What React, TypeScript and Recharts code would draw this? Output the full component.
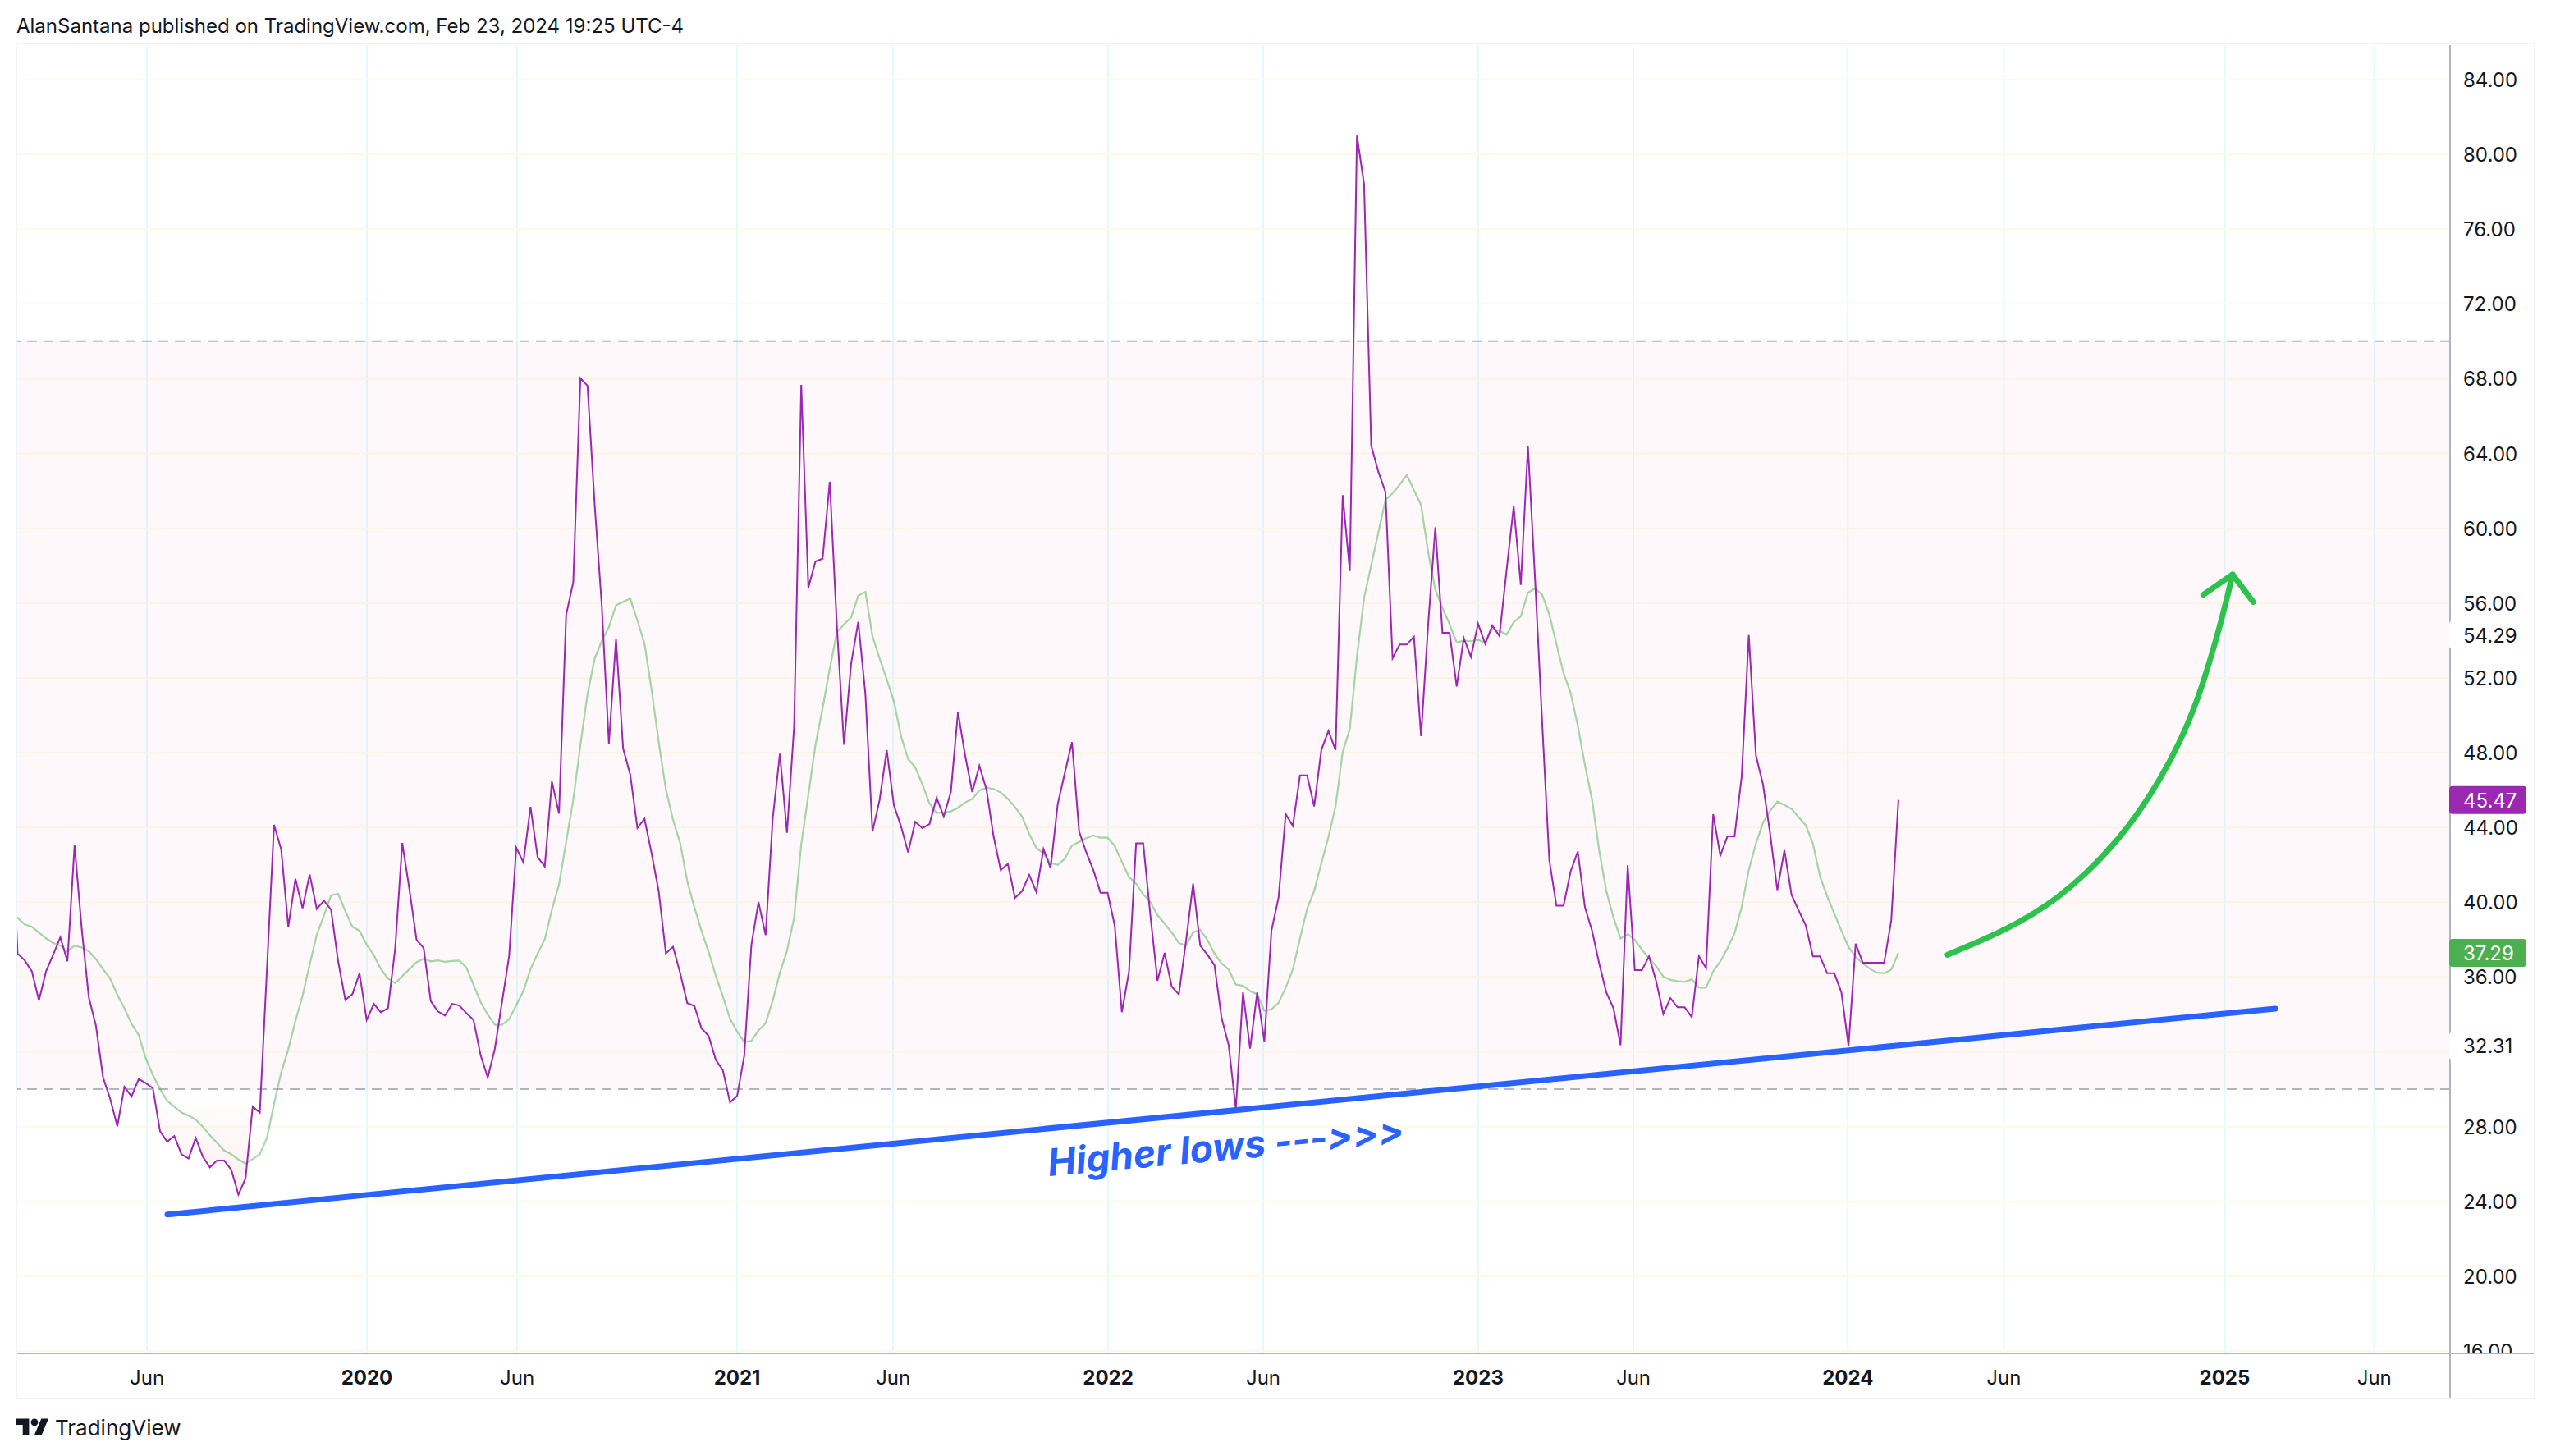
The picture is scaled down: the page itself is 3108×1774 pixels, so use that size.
import { ComposedChart, Area, Line, XAxis, YAxis, CartesianGrid, ReferenceArea, ReferenceLine } from 'recharts';

const FONT = 'Inter, sans-serif';
const INK = '#131722';
const PURPLE = '#9c27b0';
const GREEN = '#4caf50';
const BLUE = '#2962ff';
const ARROW = '#2dc24d';

// weekly RSI, first value sits just left of the pane
const rsi = [
  45.8, 37.26, 36.89, 36.31, 34.75, 36.31, 37.2, 38.13, 36.84, 43.05, 38.6, 34.91, 33.4, 30.63, 29.49, 28.02, 30.13, 29.61, 30.55, 30.33,
  30.05, 27.75, 27.19, 27.5, 26.52, 26.29, 27.4, 26.39, 25.82, 26.19, 26.19, 25.68, 24.36, 25.23, 29.07, 28.75, 36.4, 44.14, 42.83, 38.69,
  41.25, 39.68, 41.49, 39.64, 40.08, 39.61, 36.84, 34.78, 35.08, 36.2, 33.7, 34.56, 34.11, 34.33, 37.51, 43.17, 40.7, 38.0, 37.55, 34.71,
  34.16, 33.94, 34.56, 34.48, 34.07, 33.7, 31.81, 30.63, 32.18, 34.66, 37.13, 42.92, 42.13, 45.1, 42.41, 41.91, 46.46, 44.74, 55.36, 57.12,
  68.03, 67.62, 61.29, 55.88, 48.48, 54.08, 48.22, 46.82, 43.97, 44.46, 42.6, 40.57, 37.26, 37.62, 36.22, 34.6, 34.46, 33.25, 32.86, 31.57,
  31.01, 29.3, 29.64, 31.79, 37.71, 40.01, 38.24, 44.49, 47.94, 43.71, 49.4, 67.67, 56.83, 58.23, 58.37, 62.49, 54.8, 48.42, 52.76, 55.0,
  51.16, 43.79, 45.47, 48.14, 45.19, 44.07, 42.67, 44.3, 43.96, 44.18, 45.59, 44.58, 45.89, 50.18, 47.86, 45.89, 47.29, 46.03, 43.51, 41.72,
  42.05, 40.23, 40.6, 41.46, 40.54, 42.84, 41.83, 45.25, 46.93, 48.56, 43.79, 42.67, 41.72, 40.51, 40.51, 38.75, 34.12, 36.28, 43.15, 43.15,
  39.31, 35.8, 37.29, 35.49, 35.07, 37.9, 40.99, 37.68, 37.2, 36.64, 33.81, 32.35, 28.93, 35.18, 32.17, 35.18, 32.56, 38.48, 40.26, 44.71,
  44.08, 46.78, 46.78, 45.13, 48.14, 49.16, 48.14, 61.77, 57.71, 81.0, 78.41, 64.43, 63.03, 61.94, 53.05, 53.78, 53.78, 54.2, 48.88, 54.87,
  60.05, 54.41, 54.41, 51.54, 54.13, 53.12, 54.9, 53.82, 54.8, 54.24, 57.74, 61.17, 56.97, 64.4, 57.3, 49.6, 42.26, 39.81, 39.81, 41.66,
  42.71, 39.74, 38.48, 36.72, 35.18, 34.34, 32.35, 41.98, 36.37, 36.37, 37.11, 35.78, 34.03, 34.87, 34.38, 34.38, 33.85, 37.11, 36.48, 44.71,
  42.5, 43.52, 43.52, 46.71, 54.29, 47.86, 46.29, 43.66, 40.65, 42.78, 40.4, 39.56, 38.76, 37.11, 37.11, 36.2, 36.2, 35.18, 32.31, 37.78,
  36.76, 36.76, 36.76, 36.76, 39.04, 45.47,
];

// its moving average
const rsiMa = [
  39.5, 39.16, 38.81, 38.69, 38.37, 38.07, 37.82, 37.68, 37.38, 37.68, 37.58, 37.38, 36.96, 36.42, 35.92, 35.05, 34.33, 33.49, 32.9, 31.64,
  30.75, 30.01, 29.38, 29.07, 28.75, 28.59, 28.37, 28.0, 27.53, 27.13, 26.72, 26.52, 26.24, 26.02, 26.27, 26.52, 27.4, 29.21, 30.89, 32.14,
  33.65, 35.0, 36.67, 38.27, 39.28, 40.37, 40.45, 39.53, 38.69, 38.47, 37.73, 37.18, 36.42, 35.92, 35.67, 36.05, 36.42, 36.79, 36.98, 36.84,
  36.89, 36.81, 36.86, 36.88, 36.51, 35.58, 34.66, 33.99, 33.44, 33.44, 33.74, 34.49, 35.25, 36.42, 37.26, 38.02, 39.61, 40.95, 43.22, 45.48,
  48.4, 51.12, 53.02, 53.97, 54.71, 55.88, 56.07, 56.24, 55.07, 53.83, 51.34, 48.56, 46.03, 44.41, 43.17, 41.13, 39.73, 38.47, 37.34, 36.08,
  34.96, 33.78, 33.08, 32.52, 32.58, 33.14, 33.53, 34.74, 36.22, 37.4, 39.17, 43.09, 45.75, 48.42, 50.38, 52.48, 54.44, 54.86, 55.23, 56.4,
  56.6, 54.22, 53.04, 51.92, 50.74, 48.89, 47.66, 47.21, 46.31, 45.28, 44.77, 44.8, 44.86, 45.05, 45.33, 45.53, 45.98, 46.12, 46.06, 45.87,
  45.53, 45.08, 44.58, 43.65, 42.9, 42.61, 42.11, 42.0, 42.33, 43.03, 43.23, 43.43, 43.57, 43.45, 43.45, 43.01, 42.17, 41.35, 40.99, 40.43,
  40.01, 39.31, 38.86, 38.38, 37.82, 37.68, 38.38, 38.52, 37.99, 37.26, 36.73, 36.39, 35.6, 35.53, 35.25, 35.08, 34.2, 34.27, 34.62, 35.43,
  36.41, 38.06, 39.63, 40.61, 42.08, 43.49, 45.13, 48.04, 49.26, 53.12, 56.27, 58.02, 59.77, 61.52, 61.87, 62.33, 62.85, 62.05, 61.24, 58.72,
  56.72, 55.74, 54.87, 53.89, 53.99, 53.96, 54.03, 53.89, 54.62, 54.52, 54.31, 54.97, 55.29, 56.55, 56.8, 56.45, 55.39, 53.82, 52.24, 51.19,
  49.44, 47.34, 45.48, 42.78, 40.61, 39.18, 38.06, 38.3, 37.99, 37.46, 37.0, 36.58, 36.02, 35.85, 35.78, 35.74, 35.88, 35.43, 35.43, 36.3,
  36.83, 37.53, 38.34, 39.74, 41.73, 43.13, 44.26, 44.89, 45.38, 45.2, 44.99, 44.54, 44.12, 43.13, 41.38, 40.33, 39.39, 38.48, 37.6, 37.08,
  36.72, 36.44, 36.23, 36.2, 36.39, 37.29,
];

const FIRST_WEEK = -1;
const weeks = rsi.map((_, i) => i + FIRST_WEEK);

// axis ticks, placed where the picture has them on the week scale
const xTicks = [18.16, 49.03, 70.12, 101, 122.9, 153.07, 174.84, 205.02, 226.8, 256.9, 278.8, 309.8, 330.8];
const xLabels = ['Jun', '2020', 'Jun', '2021', 'Jun', '2022', 'Jun', '2023', 'Jun', '2024', 'Jun', '2025', 'Jun'];
const boldLabels = ['2020', '2021', '2022', '2023', '2024', '2025'];
const yGrid = [16, 20, 24, 28, 32, 36, 40, 44, 48, 52, 56, 60, 64, 68, 72, 76, 80, 84];
const hiddenYLabels = [32]; // sits under the 32.31 tag

// drawings on the chart
const trendWeeks = [21.04, 316.9];
const trendValues = [23.3, 34.31];
const arrowWeeks = [270.9, 274.3, 279.0, 286.35, 294.4, 300.7, 305.7, 309.4, 310.9];
const arrowValues = [37.19, 37.74, 38.56, 40.28, 43.2, 46.6, 50.6, 55.2, 57.53];
const headWeeks = [306.8, 310.9, 313.8];
const headValues = [56.45, 57.53, 56.06];

const tableData = weeks.map((week, i) => ({
  week,
  rsi: rsi[i],
  ma: rsiMa[i],
  over: [70, Math.max(rsi[i], 70)],
  under: [Math.min(rsi[i], 30), 30],
}));
const arrowData = arrowWeeks.map((week, i) => ({ week, arrow: arrowValues[i] }));
const headData = headWeeks.map((week, i) => ({ week, head: headValues[i] }));

const priceTags = [
  { value: 54.29, bg: '#ffffff', color: INK },
  { value: 32.31, bg: '#ffffff', color: INK },
  { value: 45.47, bg: PURPLE, color: '#ffffff' },
  { value: 37.29, bg: GREEN, color: '#ffffff' },
];
const yTicks = [...yGrid.filter((v) => !hiddenYLabels.includes(v)), ...priceTags.map((t) => t.value)];

const TimeTick = ({ x, index }: any) => {
  const label = xLabels[index];
  return (
    <text
      x={x}
      y={1687}
      textAnchor="middle"
      fontFamily={FONT}
      fontSize={24}
      fontWeight={boldLabels.includes(label) ? 700 : 400}
      fill={INK}
    >
      {label}
    </text>
  );
};

const PriceTick = ({ y, payload }: any) => {
  const tag = priceTags.find((t) => t.value === payload.value);
  return (
    <g>
      {tag && <rect x={2984} y={y - 17} width={94} height={34} rx={4} fill={tag.bg} />}
      <text x={3001} y={y + 9} fontFamily={FONT} fontSize={24} fill={tag ? tag.color : INK}>
        {payload.value.toFixed(2)}
      </text>
    </g>
  );
};

export default function App() {
  return (
    <div style={{ position: 'absolute', left: 0, top: 0, width: 3108, height: 1774, background: '#fff', overflow: 'hidden' }}>
      <div style={{ position: 'absolute', left: 20, top: 16, fontFamily: FONT, fontSize: 24, lineHeight: '32px', color: INK, whiteSpace: 'nowrap' }}>
        AlanSantana published on TradingView.com, Feb 23, 2024 19:25 UTC-4
      </div>

      <ComposedChart
        width={3108}
        height={1774}
        data={tableData}
        margin={{ top: 55, right: 0, bottom: 70, left: 21 }}
        style={{ position: 'absolute', left: 0, top: 0 }}
      >
        <defs>
          <linearGradient id="underFill" x1="0" y1="0" x2="0" y2="1">
            <stop offset="0%" stopColor="#f23645" stopOpacity={0} />
            <stop offset="100%" stopColor="#f23645" stopOpacity={0.14} />
          </linearGradient>
          <linearGradient id="overFill" x1="0" y1="0" x2="0" y2="1">
            <stop offset="0%" stopColor="#4caf50" stopOpacity={0.16} />
            <stop offset="100%" stopColor="#4caf50" stopOpacity={0} />
          </linearGradient>
        </defs>
        <CartesianGrid horizontal={false} verticalValues={xTicks} stroke="#e0fbfb" strokeWidth={2} />
        <CartesianGrid vertical={false} horizontalValues={yGrid} stroke="#fff9e6" strokeWidth={2} />
        <ReferenceArea y1={30} y2={70} fill="#d01c87" fillOpacity={0.03} stroke="none" />
        <XAxis
          dataKey="week"
          type="number"
          domain={[-0.046, 341.43]}
          allowDataOverflow
          ticks={xTicks}
          interval={0}
          height={55}
          tick={<TimeTick />}
          tickLine={false}
          axisLine={{ stroke: '#b2b5be', strokeWidth: 2 }}
        />
        <YAxis
          type="number"
          orientation="right"
          domain={[15.87, 85.84]}
          allowDataOverflow
          ticks={yTicks}
          interval={0}
          width={123}
          tick={<PriceTick />}
          tickLine={false}
          axisLine={{ stroke: '#b2b5be', strokeWidth: 2 }}
        />
        <ReferenceLine y={70} stroke="#b2b5be" strokeWidth={2} strokeDasharray="12 8" />
        <ReferenceLine y={30} stroke="#b2b5be" strokeWidth={2} strokeDasharray="12 8" />
        <Area dataKey="under" type="linear" fill="url(#underFill)" stroke="none" dot={false} activeDot={false} isAnimationActive={false} />
        <Area dataKey="over" type="linear" fill="url(#overFill)" stroke="none" dot={false} activeDot={false} isAnimationActive={false} />
        <Line dataKey="ma" type="linear" stroke={GREEN} strokeOpacity={0.5} strokeWidth={2.2} dot={false} activeDot={false} isAnimationActive={false} />
        <Line dataKey="rsi" type="linear" stroke={PURPLE} strokeWidth={2} dot={false} activeDot={false} isAnimationActive={false} />
        <ReferenceLine
          segment={[
            { x: trendWeeks[0], y: trendValues[0] },
            { x: trendWeeks[1], y: trendValues[1] },
          ]}
          stroke={BLUE}
          strokeWidth={7}
          strokeLinecap="round"
        />
        <Line data={arrowData} dataKey="arrow" type="natural" stroke={ARROW} strokeWidth={7} strokeLinecap="round" dot={false} activeDot={false} isAnimationActive={false} />
        <Line data={headData} dataKey="head" type="linear" stroke={ARROW} strokeWidth={7} strokeLinecap="round" strokeLinejoin="round" dot={false} activeDot={false} isAnimationActive={false} />
        <text
          x={1278}
          y={1433}
          transform="rotate(-5.2 1278 1433)"
          fontFamily={FONT}
          fontSize={46}
          fontWeight={700}
          fontStyle="italic"
          fill={BLUE}
          style={{ fontFeatureSettings: "'calt' 0, 'liga' 0", fontVariantLigatures: 'none' }}
        >
          Higher lows ---&gt;&gt;&gt;
        </text>
      </ComposedChart>

      {/* pane frame and the bit of the time scale that covers the 16.00 label */}
      <div style={{ position: 'absolute', left: 2986, top: 1650, width: 101, height: 53, background: '#fff' }} />
      <div style={{ position: 'absolute', left: 2984, top: 1648, width: 103, height: 2, background: '#b2b5be' }} />
      <div style={{ position: 'absolute', left: 2984, top: 1650, width: 2, height: 53, background: '#b2b5be' }} />
      <div style={{ position: 'absolute', left: 19, top: 52, width: 3066, height: 1649, border: '2px solid #f0f3fa', pointerEvents: 'none' }} />

      <svg style={{ position: 'absolute', left: 20, top: 1723.6 }} width={39.6} height={30.8} viewBox="0 0 36 28">
        <path d="M14 22H7V11H0V4h14v18zM28 22h-8l7.5-18h8L28 22z" fill={INK} />
        <circle cx={20} cy={8} r={4} fill={INK} />
      </svg>
      <div style={{ position: 'absolute', left: 67, top: 1723, fontFamily: FONT, fontSize: 26, lineHeight: '34px', color: INK }}>TradingView</div>
    </div>
  );
}
